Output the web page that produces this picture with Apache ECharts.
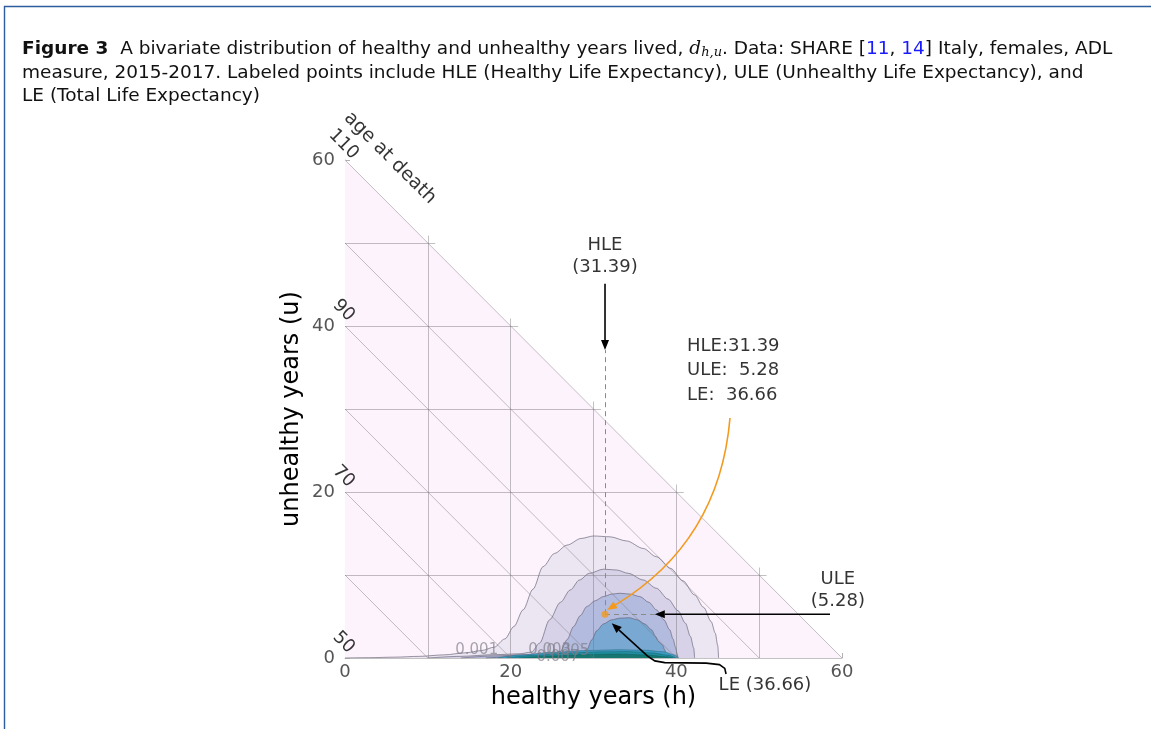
<!DOCTYPE html>
<html><head><meta charset="utf-8">
<script src="https://cdn.jsdelivr.net/npm/echarts@6/dist/echarts.min.js"></script>
<style>html,body{margin:0;padding:0;background:#fff}#c{width:1151px;height:729px}</style>
</head><body><div id="c"></div>
<script>
// ---------- data ----------
const xTicks = [0, 20, 40, 60];
const yTicks = [0, 20, 40, 60];
const gridVals = [10, 20, 30, 40, 50];         // vertical / horizontal reference lines
const ageDiagonals = [10, 20, 30, 40, 50];     // h + u = const
const ageLabelU = [0, 20, 40, 60];
const ageLabels = ['50', '70', '90', '110'];
const HLE = 31.39, ULE = 5.28, LE = 36.66;

// contour levels (h, u) boundaries, outermost first
const contour001 = [[0,0],[3,0.04],[6,0.1],[9,0.2],[12,0.38],[14.5,0.62],[16.5,0.9],[18,1.3],[19.3,2.3],[20.4,3.8],[21.5,5.8],[22.7,8.3],[23.9,11],[25.3,12.6],[26.8,13.6],[28.5,14.4],[30,14.7],[32,14.6],[34,14.1],[36,13.2],[37.6,12.2],[39.3,10.8],[40.8,9.3],[42.2,7.6],[43.3,6.1],[44.2,4.4],[44.7,3.0],[45,1.5],[45.1,0]];
const contour003 = [[10,0],[14,0.2],[18,0.4],[21,0.5],[22.5,0.7],[23.5,1.8],[24.7,4.6],[26,6.7],[27.2,8.2],[28.3,9.4],[29.5,10.2],[31.2,10.7],[32.8,10.6],[34.2,10.2],[36,9.4],[37.6,8.4],[39,7.1],[40.2,5.7],[41.1,4.2],[41.7,2.6],[42.1,1.2],[42.2,0]];
const contour005 = [[14,0],[18,0.25],[22,0.4],[25,0.5],[26,0.8],[26.8,2.2],[27.6,3.8],[28.4,5.1],[29.2,6.2],[30.2,6.9],[31.2,7.4],[32.2,7.7],[33.2,7.8],[34.4,7.7],[35.6,7.4],[36.7,6.7],[37.6,5.8],[38.5,4.6],[39.2,3.4],[39.6,2.3],[39.9,1.3],[40.1,0.5],[40.2,0]];
const contour007 = [[17,0],[21,0.2],[25,0.35],[28.5,0.5],[29.2,1.0],[29.8,2.2],[30.4,3.3],[31.2,4.1],[32.2,4.6],[33.2,4.8],[34.3,4.85],[35.3,4.6],[36.2,4.1],[37,3.4],[37.5,2.6],[37.8,2.0],[38.3,1.6],[38.6,1.0],[38.8,0]];
const contour009 = [[18.5,0],[21,0.35],[25,0.7],[29,0.9],[33,1.0],[36,0.95],[38.5,0.75],[39.7,0.4],[40.3,0]];
const contour011 = [[19.5,0],[22.5,0.3],[27,0.6],[31,0.75],[34,0.78],[37,0.62],[39,0.35],[39.9,0]];
const contour013 = [[21,0],[25,0.25],[29,0.42],[33,0.48],[36.5,0.36],[38.8,0.15],[39.6,0]];
const contourLevels = [contour001, contour003, contour005, contour007, contour009, contour011, contour013];
const contourColors = ['#ece6f2', '#d7d2e8', '#b3bbdf', '#79a9d3', '#3f9cc4', '#1f8e9e', '#157770'];
const contourLabelText = ['0.001', '0.003', '0.005', '0.007'];
const contourLabelPos = [[15.9, 0.96], [24.7, 0.96], [26.9, 0.85], [25.7, 0.14]];

// annotation anchors (data space)
const hleArrow = [[HLE, 45.1], [HLE, 37.1]];
const uleArrow = [[58.55, ULE], [37.4, ULE]];
const statsArrow = [[46.48, 28.92], [45.2, 14.0], [31.63, 5.78]];   // start, control, tip
const leArrow = [[46.0, -1.93], [45.85, -1.25], [45.2, -0.8], [43.6, -0.62], [38.6, -0.56], [37.4, -0.35], [36.5, 0.25], [32.2, 4.18]];
const hleText = ['HLE', '(31.39)'];
const uleText = ['ULE', '(5.28)'];
const statsText = ['HLE:31.39', 'ULE:  5.28', 'LE:  36.66'];
const leText = 'LE (36.66)';

// ---------- chart ----------
const chart = echarts.init(document.getElementById('c'));
const FF = 'DejaVu Sans';
const CAP = 18.5;

const gridLineData = [];
gridVals.forEach(v => {
  gridLineData.push({coords: [[v, 0], [v, 60 - v + 0.9]]});
  gridLineData.push({coords: [[0, v], [60 - v + 0.9, v]]});
});
ageDiagonals.forEach(c => gridLineData.push({coords: [[0, c], [c, 0]]}));

const contourSeries = contourLevels.map((d, i) => ({
  type: 'line', data: d, smooth: 0.3, smoothMonotone: 'x', symbol: 'none', silent: true,
  z: 2 + i * 0.01,
  lineStyle: {color: i < 4 ? 'rgba(100,95,115,0.65)' : 'rgba(20,80,90,0.6)', width: i < 4 ? 1 : 0.6},
  areaStyle: {color: contourColors[i], opacity: 1}
}));

function headPts(tip, from, len, wid) {
  const dx = tip[0] - from[0], dy = tip[1] - from[1];
  const d = Math.hypot(dx, dy) || 1;
  const ux = dx / d, uy = dy / d;
  const bx = tip[0] - ux * len, by = tip[1] - uy * len;
  const px = -uy, py = ux;
  return {base: [bx, by], pts: [tip, [bx + px * wid / 2, by + py * wid / 2], [bx - px * wid / 2, by - py * wid / 2]]};
}

const arrowDefs = [
  {kind: 'line', pts: hleArrow, color: '#000'},
  {kind: 'line', pts: uleArrow, color: '#000'},
  {kind: 'quad', pts: statsArrow, color: '#f39a1e'},
  {kind: 'line', pts: leArrow, color: '#000'}
];

function renderArrow(params, api) {
  const a = arrowDefs[params.dataIndex];
  const P = a.pts.map(p => api.coord(p));
  const L = 10, W = 8;
  const children = [];
  if (a.kind === 'quad') {
    const tip = P[2], cp = P[1];
    const h = headPts(tip, cp, L, W);
    children.push({type: 'bezierCurve', shape: {x1: P[0][0], y1: P[0][1], cpx1: cp[0], cpy1: cp[1], x2: h.base[0], y2: h.base[1]},
      style: {stroke: a.color, lineWidth: 1.6, fill: null}});
    children.push({type: 'polygon', shape: {points: h.pts}, style: {fill: a.color}});
  } else {
    const n = P.length;
    const h = headPts(P[n - 1], P[n - 2], L, W);
    const line = P.slice(0, n - 1).concat([h.base]);
    children.push({type: 'polyline', shape: {points: line}, style: {stroke: a.color, lineWidth: 1.6, fill: null}});
    children.push({type: 'polygon', shape: {points: h.pts}, style: {fill: a.color}});
  }
  return {type: 'group', children};
}

const textSeries = (data, label, extra) => Object.assign({
  type: 'scatter', symbolSize: 0, silent: true, clip: false, z: 10, data,
  label: Object.assign({show: true, formatter: '{b}', fontFamily: FF, color: '#000'}, label)
}, extra || {});

const option = {
  animation: false,
  backgroundColor: '#fff',
  grid: {left: 345, top: 160, width: 497, height: 498},
  xAxis: {
    type: 'value', min: 0, max: 60, interval: 20,
    name: 'healthy years (h)', nameLocation: 'middle', nameGap: 24,
    nameTextStyle: {fontFamily: FF, fontSize: 24, color: '#000'},
    axisLine: {lineStyle: {color: '#c2c2c2'}},
    axisTick: {inside: true, length: 5, lineStyle: {color: '#b0b0b0'}},
    axisLabel: {fontFamily: FF, fontSize: 18, color: '#555', margin: 5, formatter: v => xTicks.includes(v) ? String(v) : ''},
    splitLine: {show: false}
  },
  yAxis: {
    type: 'value', min: 0, max: 60, interval: 20,
    name: 'unhealthy years (u)', nameLocation: 'middle', nameGap: 41,
    nameTextStyle: {fontFamily: FF, fontSize: 24, color: '#000'},
    axisLine: {lineStyle: {color: '#c2c2c2'}},
    axisTick: {inside: true, length: 5, lineStyle: {color: '#b0b0b0'}},
    axisLabel: {fontFamily: FF, fontSize: 18, color: '#555', margin: 10, formatter: v => yTicks.includes(v) ? String(v) : ''},
    splitLine: {show: false}
  },
  series: [
    {type: 'line', data: [[0, 60], [60, 0]], symbol: 'none', silent: true, z: 1,
     lineStyle: {color: '#c4bec4', width: 1}, areaStyle: {color: '#fdf3fd', opacity: 1}},
    ...contourSeries,
    {type: 'lines', coordinateSystem: 'cartesian2d', silent: true, z: 4, clip: false, data: gridLineData,
     lineStyle: {color: 'rgba(120,115,120,0.45)', width: 1, opacity: 1}},
    {type: 'lines', coordinateSystem: 'cartesian2d', silent: true, z: 5, clip: false,
     data: [{coords: [[HLE, ULE], [HLE, hleArrow[1][1]]]}, {coords: [[HLE, ULE], [uleArrow[1][0], ULE]]}],
     lineStyle: {color: '#8a8a8a', width: 1, type: [5, 4], opacity: 1}},
    {type: 'custom', renderItem: renderArrow, data: arrowDefs.map((a, i) => [i]), clip: false, silent: true, z: 8},
    {type: 'scatter', data: [[HLE, ULE]], symbol: 'circle', symbolSize: 7, itemStyle: {color: '#f39a1e'}, z: 9, silent: true},
    textSeries(contourLabelPos.map((p, i) => ({name: contourLabelText[i], value: p})),
      {fontSize: 15, color: 'rgba(125,125,135,0.85)', position: 'inside'}),
    textSeries(ageLabelU.map((u, i) => ({name: ageLabels[i], value: [0, u]})),
      {fontSize: 18, position: 'inside', rotate: -45, offset: [-12, -10]}),
    textSeries([{name: 'age at death', value: [5.43, 60.24]}],
      {fontSize: 19, position: 'inside', rotate: -45}),
    textSeries([{name: hleText.join('\n'), value: [HLE, 48.4]}],
      {fontSize: 18, position: 'inside', lineHeight: 22, align: 'center'}),
    textSeries([{name: uleText.join('\n'), value: [59.5, 8.1]}],
      {fontSize: 18, position: 'inside', lineHeight: 22, align: 'center'}),
    textSeries([{name: statsText.join('\n'), value: [41.29, 34.65]}],
      {fontSize: 18, position: 'right', distance: 0, lineHeight: 24.5, align: 'left'}),
    textSeries([{name: leText, value: [50.7, -3.25]}],
      {fontSize: 18, position: 'inside'})
  ],
  graphic: [
    {type: 'rect', shape: {x: 4.5, y: 6.5, width: 1300, height: 900}, style: {fill: 'none', stroke: '#2c5d9c', lineWidth: 1.4}, z: 100},
    {type: 'text', x: 22, y: 49, z: 100, style: {
      text: '{b|Figure 3}  A bivariate distribution of healthy and unhealthy years lived, {m|d}{s|h,u}. Data: SHARE [{l|11}, {l|14}] Italy, females, ADL',
      fontFamily: FF, fontSize: CAP, fill: '#111', verticalAlign: 'middle',
      rich: {
        b: {fontFamily: FF, fontSize: CAP, fontWeight: 'bold', fill: '#111'},
        m: {fontFamily: 'DejaVu Serif', fontStyle: 'italic', fontSize: CAP, fill: '#111'},
        s: {fontFamily: 'DejaVu Serif', fontStyle: 'italic', fontSize: 13, fill: '#111', padding: [8, 0, 0, 0]},
        l: {fontFamily: FF, fontSize: CAP, fill: '#1a1aff'}
      }}},
    {type: 'text', x: 22, y: 73, z: 100, style: {
      text: 'measure, 2015-2017. Labeled points include HLE (Healthy Life Expectancy), ULE (Unhealthy Life Expectancy), and',
      fontFamily: FF, fontSize: CAP, fill: '#111', verticalAlign: 'middle'}},
    {type: 'text', x: 22, y: 96, z: 100, style: {
      text: 'LE (Total Life Expectancy)', fontFamily: FF, fontSize: CAP, fill: '#111', verticalAlign: 'middle'}}
  ]
};
chart.setOption(option);
</script></body></html>
